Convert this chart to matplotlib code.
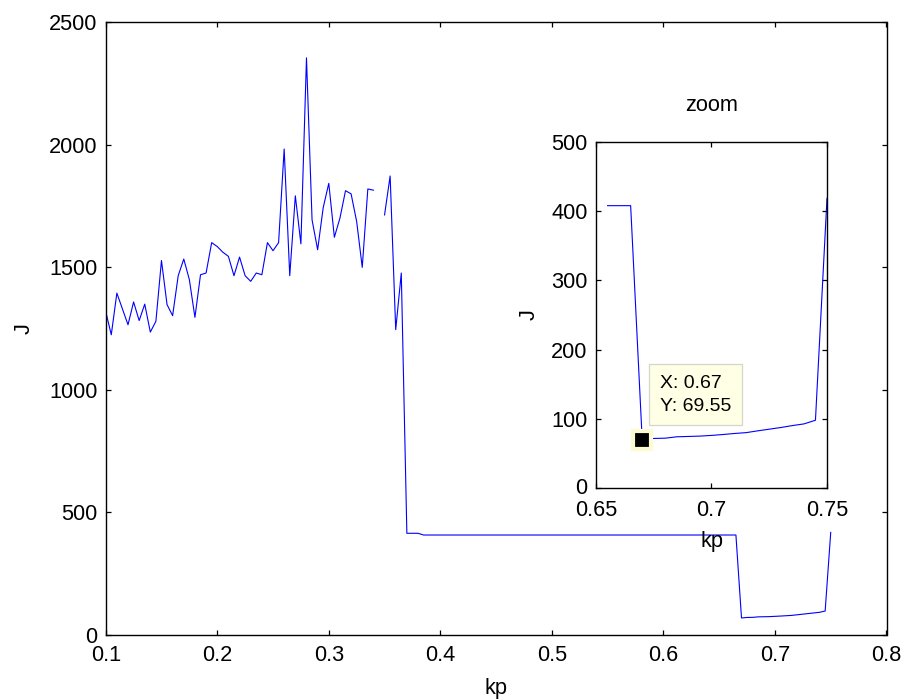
import numpy as np
import matplotlib
matplotlib.use("Agg")
import matplotlib.pyplot as plt
from matplotlib.transforms import ScaledTranslation

plt.rcParams['font.family'] = ['Liberation Sans', 'DejaVu Sans']

# Gain sweep kp and the resulting cost J
kp = np.round(np.arange(131) * 0.005 + 0.1, 3)
J = np.array([
    1320, 1225, 1395, 1330, 1266, 1359, 1283, 1350, 1236, 1280,
    1528, 1348, 1303, 1466, 1534, 1450, 1296, 1470, 1477, 1601,
    1585, 1562, 1545, 1466, 1542, 1466, 1443, 1477, 1470, 1601,
    1568, 1601, 1983, 1466, 1792, 1596, 2355, 1694, 1572, 1744,
    1843, 1623, 1701, 1813, 1800, 1687, 1500, 1820, 1815, np.nan,
    1714, 1873, 1246, 1477, 415, 415, 415, 408, 408, 408,
    408, 408, 408, 408, 408, 408, 408, 408, 408, 408,
    408, 408, 408, 408, 408, 408, 408, 408, 408, 408,
    408, 408, 408, 408, 408, 408, 408, 408, 408, 408,
    408, 408, 408, 408, 408, 408, 408, 408, 408, 408,
    408, 408, 408, 408, 408, 408, 408, 408, 408, 408,
    408, 408, 408, 408, 69.55, 71.6, 72, 74, 74.5, 75,
    76, 77.3, 78.8, 80, 82.6, 85, 87.4, 90.2, 92.6, 97.9,
    418.6,
])

main_xticks = [0.1, 0.2, 0.3, 0.4, 0.5, 0.6, 0.7, 0.8]
main_yticks = [0, 500, 1000, 1500, 2000, 2500]
zoom_xticks = [0.65, 0.7, 0.75]
zoom_yticks = [0, 100, 200, 300, 400, 500]
zoom_start = 0.655
tip_x, tip_y = 0.67, 69.55

FS = 15.7
W, H = 906, 700
fig = plt.figure(figsize=(W / 100, H / 100), dpi=100)


def style_axes(ax, xpad=7):
    for s in ax.spines.values():
        s.set_linewidth(1.0)
        s.set_color('black')
    ax.tick_params(direction='in', length=3.5, width=0.9, top=True, right=True,
                   labelsize=FS, colors='black')
    ax.tick_params(axis='x', pad=xpad)
    ax.tick_params(axis='y', pad=6)


# main axes
ax = fig.add_axes([105.7 / W, 1 - 635 / H, 780.8 / W, 612.7 / H])
ax.plot(kp, J, color='#0000ff', lw=0.8)
ax.set_xlim(0.1, 0.8)
ax.set_ylim(0, 2500)
ax.set_xticks(main_xticks)
ax.set_xticklabels(['0.1', '0.2', '0.3', '0.4', '0.5', '0.6', '0.7', '0.8'])
ax.set_yticks(main_yticks)
style_axes(ax)
ax.set_xlabel('kp', fontsize=FS, va='baseline')
ax.xaxis.set_label_coords(0.5, -0.0963)
ax.set_ylabel('J', fontsize=FS, va='baseline', ha='center', rotation_mode='anchor')
ax.yaxis.set_label_coords(-0.0978, 0.5)

# inset zoom axes
axz = fig.add_axes([596 / W, 1 - 488 / H, 231 / W, 346 / H])
mask = kp >= zoom_start
axz.plot(kp[mask], J[mask], color='#0000ff', lw=0.8)
axz.set_xlim(0.65, 0.75)
axz.set_ylim(0, 500)
axz.set_xticks(zoom_xticks)
axz.set_xticklabels(['0.65', '0.7', '0.75'])
axz.set_yticks(zoom_yticks)
style_axes(axz, xpad=8.5)
axz.set_xlabel('kp', fontsize=FS, va='baseline')
axz.xaxis.set_label_coords(0.5, -0.1697)
axz.set_ylabel('J', fontsize=FS, va='baseline', ha='center', rotation_mode='anchor')
axz.yaxis.set_label_coords(-0.264, 0.5)
axz.text(0.5, 1.0905, 'zoom', transform=axz.transAxes, ha='center',
         va='baseline', fontsize=FS)

# lift the inset's bottom y label a little off the x labels
fig.canvas.draw()
lab0 = axz.get_yticklabels()[0]
lab0.set_transform(lab0.get_transform() + ScaledTranslation(0, 2.5 / 100, fig.dpi_scale_trans))

# data tip
axz.plot([tip_x], [tip_y], marker='s', markersize=12.5, markerfacecolor='black',
         markeredgecolor='#fdfbd2', markeredgewidth=3.0, zorder=5, clip_on=False)
axz.annotate(f'X: {tip_x:.2f}\nY: {tip_y:.2f}', xy=(tip_x, tip_y),
             xytext=(53, 45), textcoords='offset pixels', ha='center', va='center',
             multialignment='left', fontsize=14, linespacing=1.45, zorder=4,
             bbox=dict(boxstyle='square,pad=0.55', facecolor='#ffffe6',
                       edgecolor='#d6d6c8', linewidth=0.9))

fig.savefig('out.png', dpi=100)
